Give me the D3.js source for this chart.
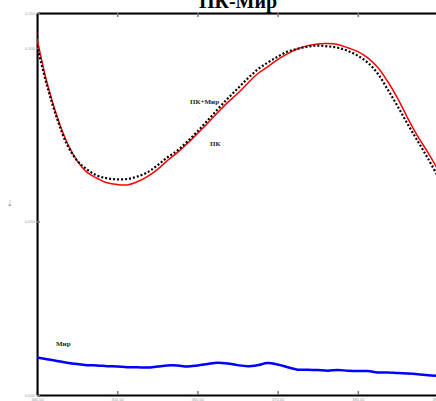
<!DOCTYPE html>
<html>
<head>
<meta charset="utf-8">
<script src="https://cdnjs.cloudflare.com/ajax/libs/d3/7.8.5/d3.min.js"></script>
<style>
body { margin: 0; background: #fff; }
svg { display: block; }
</style>
</head>
<body>
<svg id="chart" width="436" height="401"></svg>
<script>
var width = 436, height = 401;

// wavelengths, nm (1.25 nm steps)
var wavelengths = d3.range(0, 41).map(function (i) { return 340 + i * 1.25; });

// ПК
var pkValues = [0.1026, 0.0899, 0.0802, 0.0727, 0.0675, 0.0641, 0.0624, 0.0611, 0.0606, 0.0605,
    0.0614, 0.0629, 0.0649, 0.0675, 0.0698, 0.0724, 0.0753, 0.0782, 0.0813, 0.0842,
    0.0868, 0.0897, 0.0925, 0.0945, 0.0966, 0.0983, 0.0997, 0.1006, 0.1011, 0.1012,
    0.1009, 0.1000, 0.0989, 0.0971, 0.0943, 0.0902, 0.0853, 0.0796, 0.0744, 0.0698, 0.0649];

// ПК+Мир
var pkMirValues = [0.1006, 0.0891, 0.0796, 0.0721, 0.0675, 0.0649, 0.0632, 0.0624, 0.0621, 0.0622,
    0.0629, 0.0641, 0.0661, 0.0684, 0.0704, 0.0730, 0.0759, 0.0790, 0.0822, 0.0853,
    0.0882, 0.0911, 0.0937, 0.0957, 0.0974, 0.0989, 0.0997, 0.1003, 0.1006, 0.1004,
    0.1000, 0.0991, 0.0977, 0.0957, 0.0925, 0.0879, 0.0830, 0.0779, 0.0730, 0.0681, 0.0629];

// Мир
var mirValues = [0.0108, 0.0103, 0.0098, 0.0093, 0.0089, 0.0086, 0.0085, 0.0083, 0.0082, 0.0080,
    0.0080, 0.0079, 0.0082, 0.0085, 0.0085, 0.0082, 0.0085, 0.0089, 0.0093, 0.0091,
    0.0086, 0.0083, 0.0086, 0.0092, 0.0088, 0.0080, 0.0073, 0.0073, 0.0072, 0.0070,
    0.0072, 0.0070, 0.0069, 0.0069, 0.0065, 0.0065, 0.0063, 0.0062, 0.0060, 0.0057, 0.0055];

var xTicks = [340, 350, 360, 370, 380, 390];
var yTicks = [0, 0.05, 0.1, 0.11];

var svg = d3.select("#chart");

// plot box (note: "top" is taken by window.top, so use other names)
var plotLeft = 37, plotTop = 13, plotBottom = 395;
var x = d3.scaleLinear().domain([340, 390]).range([plotLeft, plotLeft + 401]);
var y = d3.scaleLinear().domain([0, 0.11]).range([plotBottom, plotTop]);

var fmtX = function (d) { return d3.format(".2f")(d).replace(".", ","); };
var fmtY = function (d) { return d3.format(".3f")(d).replace(".", ","); };

svg.append("defs").append("clipPath").attr("id", "plot")
    .append("rect").attr("x", plotLeft).attr("y", plotTop)
    .attr("width", width - plotLeft).attr("height", plotBottom - plotTop);

// light shadow lines inside the frame
svg.append("line").attr("x1", plotLeft).attr("x2", width).attr("y1", plotTop + 1.5).attr("y2", plotTop + 1.5)
    .style("stroke", "#ccc").style("stroke-width", 1);
svg.append("line").attr("x1", plotLeft + 1.5).attr("x2", plotLeft + 1.5).attr("y1", plotTop).attr("y2", plotBottom)
    .style("stroke", "#ccc").style("stroke-width", 1);

// bottom axis
var xAxis = svg.append("g").attr("transform", "translate(0," + plotBottom + ")")
    .call(d3.axisBottom(x).tickValues(xTicks).tickSize(-4).tickSizeOuter(0).tickFormat(fmtX));
// top axis
var xAxisTop = svg.append("g").attr("transform", "translate(0," + plotTop + ")")
    .call(d3.axisTop(x).tickValues(xTicks).tickSize(-4).tickSizeOuter(0).tickFormat(""));
// left axis
var yAxis = svg.append("g").attr("transform", "translate(" + plotLeft + ",0)")
    .call(d3.axisLeft(y).tickValues(yTicks).tickSize(-3).tickSizeOuter(0).tickFormat(fmtY));

[xAxis, xAxisTop, yAxis].forEach(function (g) {
    g.select(".domain").style("stroke", "#000").style("stroke-width", 2);
    g.selectAll(".tick line").style("stroke", "#777").style("stroke-width", 1.5);
    g.selectAll(".tick text").style("fill", "#999").style("font-family", "Liberation Sans, Arial, sans-serif")
        .style("font-size", "4px");
});
xAxis.selectAll(".tick text").attr("y", 3);
yAxis.selectAll(".tick text").attr("x", -2);

// lines
var plot = svg.append("g").attr("clip-path", "url(#plot)");

function lineFor(values) {
    return d3.line()
        .x(function (d, i) { return x(wavelengths[i]); })
        .y(function (d) { return y(d); })
        .curve(d3.curveCatmullRom)(values);
}

plot.append("path").attr("d", lineFor(mirValues))
    .attr("fill", "none").style("stroke", "#0000ff").style("stroke-width", 2.5);

plot.append("path").attr("d", lineFor(pkValues))
    .attr("fill", "none").style("stroke", "#ff0000").style("stroke-width", 1.5);

plot.append("path").attr("d", lineFor(pkMirValues))
    .attr("fill", "none").style("stroke", "#000").style("stroke-width", 2.2)
    .style("stroke-dasharray", "2,2");

// labels
var serif = "Liberation Serif, Times New Roman, serif";
svg.append("text").attr("x", 238).attr("y", 8).attr("text-anchor", "middle")
    .style("font-family", serif).style("font-weight", "bold").style("font-size", "20px")
    .text("ПК-Мир");

svg.append("text").attr("x", 190).attr("y", 104)
    .style("font-family", serif).style("font-weight", "bold").style("font-size", "7px").style("fill", "#222")
    .text("ПК+Мир");
svg.append("text").attr("x", 210).attr("y", 146)
    .style("font-family", serif).style("font-weight", "bold").style("font-size", "7px").style("fill", "#222")
    .text("ПК");
svg.append("text").attr("x", 56).attr("y", 346)
    .style("font-family", serif).style("font-weight", "bold").style("font-size", "7px").style("fill", "#222")
    .text("Мир");

svg.append("text").attr("transform", "translate(11,203) rotate(-90)").attr("text-anchor", "middle")
    .style("font-family", "Liberation Sans, Arial, sans-serif").style("font-size", "4px").style("fill", "#999")
    .text("A.u.");
</script>
</body>
</html>
